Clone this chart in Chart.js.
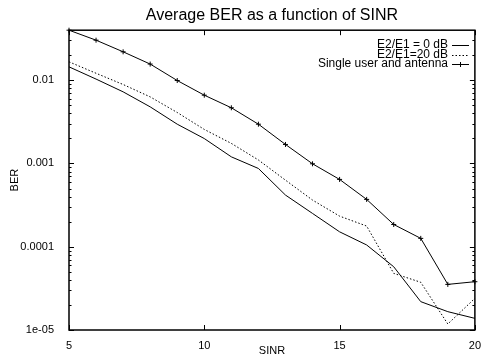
<!DOCTYPE html>
<html>
<head>
<meta charset="utf-8">
<script src="https://cdn.jsdelivr.net/npm/chart.js@4.4.0/dist/chart.umd.min.js"></script>
<style>
  html, body { margin: 0; padding: 0; background: #fff; }
  canvas { display: block; }
</style>
</head>
<body>
<canvas id="berChart" width="482" height="355"></canvas>
<script>
// SINR steps on the x axis
const sinr = [5, 6, 7, 8, 9, 10, 11, 12, 13, 14, 15, 16, 17, 18, 19, 20];

// BER curves
const ber0dB = [0.01445, 0.0103, 0.00724, 0.00478, 0.00296, 0.00199, 0.0012, 0.00087,
  0.000417, 0.000251, 0.000151, 0.000105, 0.0000575, 0.0000219, 0.0000166, 0.0000138];
const ber20dB = [0.0166, 0.0121, 0.00887, 0.0063, 0.00409, 0.00256, 0.00174, 0.0011,
  0.00063, 0.000363, 0.000233, 0.000177, 0.0000479, 0.0000374, 0.0000118, 0.000024];
const berSingle = [0.0398, 0.0302, 0.0219, 0.0156, 0.0099, 0.0066, 0.00466, 0.00296,
  0.00169, 0.00099, 0.000643, 0.00037, 0.000185, 0.000126, 0.0000353, 0.000038];

const seriesNames = ['E2/E1 = 0 dB', 'E2/E1=20 dB', 'Single user and antenna'];

// axis ticks
const xTicks = [5, 10, 15, 20];
const yTicks = [1e-5, 1e-4, 1e-3, 1e-2];
const yTickLabels = ['1e-05', '0.0001', '0.001', '0.01'];
const yMax = 0.0398;

const FONT = '"Liberation Sans", Arial, Helvetica, sans-serif';
Chart.defaults.font.family = FONT;
Chart.defaults.font.size = 11;
Chart.defaults.color = '#000';

const pts = arr => sinr.map((s, i) => ({ x: s, y: arr[i] }));

// gnuplot style frame: box, inward ticks on all sides, key top right
const frameAndKey = {
  id: 'frameAndKey',
  afterDatasetsDraw(chart) {
    const { ctx, chartArea: a, scales: { x, y } } = chart;
    ctx.save();
    ctx.strokeStyle = '#000';
    ctx.lineWidth = 1;
    ctx.setLineDash([]);
    ctx.beginPath();
    xTicks.forEach(v => {
      const px = Math.round(x.getPixelForValue(v)) + 0.5;
      ctx.moveTo(px, a.bottom); ctx.lineTo(px, a.bottom - 5);
      ctx.moveTo(px, a.top); ctx.lineTo(px, a.top + 5);
    });
    yTicks.forEach(d => {
      for (let m = 1; m <= 9; m++) {
        const v = d * m;
        if (v > yMax) break;
        const py = Math.round(y.getPixelForValue(v)) + 0.5;
        const len = m === 1 ? 5 : 2.5;
        ctx.moveTo(a.left, py); ctx.lineTo(a.left + len, py);
        ctx.moveTo(a.right, py); ctx.lineTo(a.right - len, py);
      }
    });
    ctx.stroke();
    ctx.lineWidth = 1.5;
    ctx.strokeRect(a.left, a.top, a.right - a.left, a.bottom - a.top);

    // key
    ctx.lineWidth = 1;
    ctx.font = '12px ' + FONT;
    ctx.textAlign = 'right';
    ctx.textBaseline = 'middle';
    chart.data.datasets.forEach((ds, i) => {
      const ty = 45 + i * 9.5;
      const ly = Math.round(ty) + 0.5;
      ctx.fillStyle = '#000';
      ctx.fillText(ds.label, 448, ty);
      ctx.setLineDash(ds.borderDash || []);
      ctx.beginPath();
      ctx.moveTo(452, ly); ctx.lineTo(469, ly);
      ctx.stroke();
      if (ds.pointRadius > 0) {
        ctx.setLineDash([]);
        ctx.beginPath();
        ctx.moveTo(460.5 - 2.5, ly); ctx.lineTo(460.5 + 2.5, ly);
        ctx.moveTo(460.5, ly - 2.5); ctx.lineTo(460.5, ly + 2.5);
        ctx.stroke();
      }
    });
    ctx.restore();
  }
};

const ctx = document.getElementById('berChart').getContext('2d');
new Chart(ctx, {
  type: 'line',
  data: {
    datasets: [{
      label: seriesNames[0],
      data: pts(ber0dB),
      borderColor: '#000',
      borderWidth: 1,
      pointRadius: 0,
      clip: false
    }, {
      label: seriesNames[1],
      data: pts(ber20dB),
      borderColor: '#000',
      borderWidth: 1,
      borderDash: [1.5, 2],
      pointRadius: 0,
      clip: false
    }, {
      label: seriesNames[2],
      data: pts(berSingle),
      borderColor: '#000',
      borderWidth: 1,
      pointStyle: 'cross',
      pointRadius: 2.5,
      pointBorderWidth: 1,
      pointBorderColor: '#000',
      clip: false
    }]
  },
  options: {
    responsive: false,
    animation: false,
    layout: { padding: { left: 0, right: 6, top: 0, bottom: 0 } },
    plugins: {
      legend: { display: false },
      tooltip: { enabled: false },
      title: {
        display: true,
        fullSize: false,
        text: 'Average BER as a function of SINR',
        color: '#000',
        font: { size: 16, weight: 'normal' },
        padding: { top: 6, bottom: 5 }
      }
    },
    scales: {
      x: {
        type: 'linear',
        min: 5,
        max: 20,
        grid: { display: false },
        border: { display: false },
        afterBuildTicks: s => { s.ticks = xTicks.map(v => ({ value: v })); },
        afterFit: s => { s.height = 25; },
        ticks: { padding: 1, maxRotation: 0, callback: v => String(v) },
        title: { display: true, text: 'SINR', font: { size: 11 }, padding: { top: 0, bottom: -3 } }
      },
      y: {
        type: 'logarithmic',
        min: 1e-5,
        max: yMax,
        grid: { display: false },
        border: { display: false },
        afterBuildTicks: s => { s.ticks = yTicks.map(v => ({ value: v })); },
        afterFit: s => { s.width = 69; },
        ticks: { padding: 7, callback: (v, i) => yTickLabels[i] },
        title: { display: true, text: 'BER', font: { size: 11 }, padding: { top: 8, bottom: 0 } }
      }
    }
  },
  plugins: [frameAndKey]
});
</script>
</body>
</html>
